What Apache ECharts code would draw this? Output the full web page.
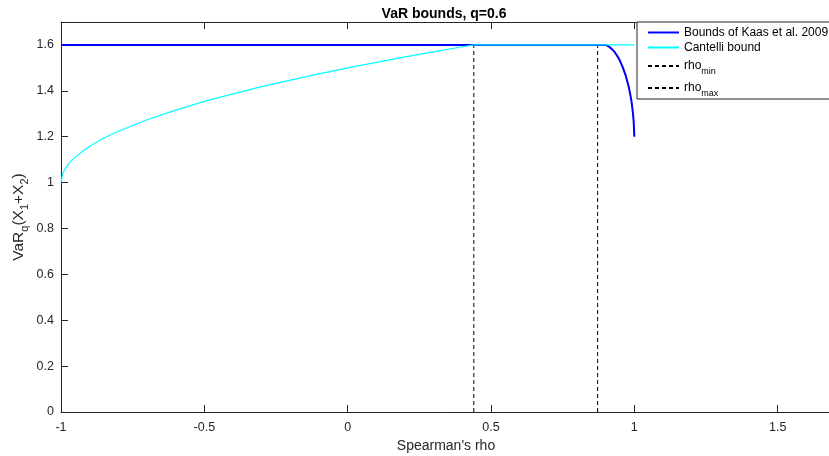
<!DOCTYPE html>
<html>
<head>
<meta charset="utf-8">
<script src="https://cdn.jsdelivr.net/npm/echarts@6/dist/echarts.min.js"></script>
<style>
html,body{margin:0;padding:0;background:#fff;}
#chart{width:829px;height:456px;}
</style>
</head>
<body>
<div id="chart"></div>
<script>
// Bounds of Kaas et al. 2009
const rhoKaas = [-1, 0.9, 0.91, 0.92, 0.93, 0.94, 0.95, 0.96, 0.97, 0.98, 0.985, 0.99, 0.995, 0.998, 1.0];
const varKaas = [1.6, 1.6, 1.594, 1.584, 1.571, 1.553, 1.531, 1.501, 1.466, 1.42, 1.39, 1.355, 1.305, 1.26, 1.2];
// Cantelli bound
const rhoCant = [-1, -0.995, -0.99, -0.98, -0.97, -0.95, -0.92, -0.9, -0.85, -0.8, -0.7, -0.6, -0.5, -0.4, -0.3, -0.2, -0.1, 0, 0.1, 0.2, 0.3, 0.4, 0.44, 1.0];
const varCant = [1.0, 1.035, 1.05, 1.071, 1.087, 1.112, 1.141, 1.158, 1.194, 1.224, 1.274, 1.316, 1.354, 1.387, 1.418, 1.447, 1.474, 1.5, 1.524, 1.548, 1.570, 1.592, 1.6, 1.6];
// vertical markers
const rhoMin = 0.44;
const rhoMax = 0.872;
const markerSpan = [0, 1.6];
// axes
const xRange = [-1, 1.7];
const xStep = 0.5;
const yRange = [0, 1.7];
const yStep = 0.2;
const legendNames = ['Bounds of Kaas et al. 2009', 'Cantelli bound', 'rho_min', 'rho_max'];
const legendRich = {
  'Bounds of Kaas et al. 2009': 'Bounds of Kaas et al. 2009',
  'Cantelli bound': 'Cantelli bound',
  'rho_min': '{r|rho}{s|min}',
  'rho_max': '{r|rho}{s|max}'
};

const zip = (a, b) => a.map((v, i) => [v, b[i]]);
const axisColor = '#262626';
const font = 'Liberation Sans, Arial, Helvetica, sans-serif';

const chart = echarts.init(document.getElementById('chart'), null, {renderer: 'canvas'});
chart.setOption({
  animation: false,
  backgroundColor: '#fff',
  title: {
    text: 'VaR bounds, q=0.6',
    left: 439,
    top: 2,
    textAlign: 'center',
    textStyle: {fontFamily: font, fontSize: 14, fontWeight: 'bold', color: '#000'}
  },
  grid: {left: 61, top: 22, width: 774, height: 390, containLabel: false, outerBoundsMode: 'none'},
  legend: {
    data: legendNames,
    orient: 'vertical',
    left: 637,
    top: 22,
    padding: [4, 10, 1, 10],
    itemGap: 2,
    itemWidth: 31,
    itemHeight: 12,
    backgroundColor: '#fff',
    borderColor: axisColor,
    borderWidth: 1,
    borderRadius: 0,
    itemStyle: {opacity: 0},
    formatter: n => legendRich[n],
    textStyle: {
      fontFamily: font, fontSize: 12, color: '#000', lineHeight: 13,
      rich: {
        r: {fontFamily: font, fontSize: 12, color: '#000', lineHeight: 20, verticalAlign: 'middle'},
        s: {fontFamily: font, fontSize: 9, color: '#000', lineHeight: 10, verticalAlign: 'bottom'}
      }
    }
  },
  xAxis: [{
    type: 'value',
    min: xRange[0], max: xRange[1], interval: xStep,
    position: 'bottom',
    axisLine: {onZero: false, lineStyle: {color: axisColor, width: 1}},
    axisTick: {inside: true, length: 7, lineStyle: {color: axisColor}},
    axisLabel: {showMaxLabel: false, margin: 9, color: axisColor, fontFamily: font, fontSize: 12.5},
    splitLine: {show: false},
    name: "Spearman's rho",
    nameLocation: 'middle',
    nameGap: 26,
    nameTextStyle: {fontFamily: font, fontSize: 14, color: axisColor, padding: [0, 4, 0, 0]}
  }, {
    type: 'value',
    min: xRange[0], max: xRange[1], interval: xStep,
    position: 'top',
    axisLine: {onZero: false, lineStyle: {color: axisColor, width: 1}},
    axisTick: {inside: true, length: 7, lineStyle: {color: axisColor}},
    axisLabel: {show: false},
    splitLine: {show: false}
  }],
  yAxis: [{
    type: 'value',
    min: yRange[0], max: yRange[1], interval: yStep,
    position: 'left',
    axisLine: {show: true, onZero: false, lineStyle: {color: axisColor, width: 1}},
    axisTick: {show: true, inside: true, length: 7, lineStyle: {color: axisColor}},
    axisLabel: {showMaxLabel: false, margin: 7, color: axisColor, fontFamily: font, fontSize: 12.5,
      formatter: v => String(+v.toFixed(1))},
    splitLine: {show: false},
    name: '{n|VaR}{s|q}{n|(X}{s|1}{n|+X}{s|2}{n|)}',
    nameLocation: 'middle',
    nameRotate: 90,
    nameGap: 31,
    nameMoveOverlap: false,
    nameTextStyle: {
      rich: {
        n: {fontFamily: font, fontSize: 15.5, color: axisColor, lineHeight: 22, verticalAlign: 'middle'},
        s: {fontFamily: font, fontSize: 11, color: axisColor, lineHeight: 12, verticalAlign: 'bottom'}
      }
    }
  }],
  series: [{
    name: legendNames[0],
    type: 'line',
    data: zip(rhoKaas, varKaas),
    showSymbol: false, symbol: 'none',
    lineStyle: {color: '#0000ff', width: 2},
    itemStyle: {color: '#0000ff'},
    z: 2
  }, {
    name: legendNames[1],
    type: 'line',
    data: zip(rhoCant, varCant),
    showSymbol: false, symbol: 'none',
    lineStyle: {color: '#00ffff', width: 1.2},
    itemStyle: {color: '#00ffff'},
    z: 3
  }, {
    name: legendNames[2],
    type: 'line',
    data: markerSpan.map(v => [rhoMin, v]),
    showSymbol: false, symbol: 'none',
    lineStyle: {color: '#000', width: 1, type: [4, 3]},
    itemStyle: {color: '#000'},
    z: 1
  }, {
    name: legendNames[3],
    type: 'line',
    data: markerSpan.map(v => [rhoMax, v]),
    showSymbol: false, symbol: 'none',
    lineStyle: {color: '#000', width: 1, type: [4, 3]},
    itemStyle: {color: '#000'},
    z: 1
  }]
});
</script>
</body>
</html>
